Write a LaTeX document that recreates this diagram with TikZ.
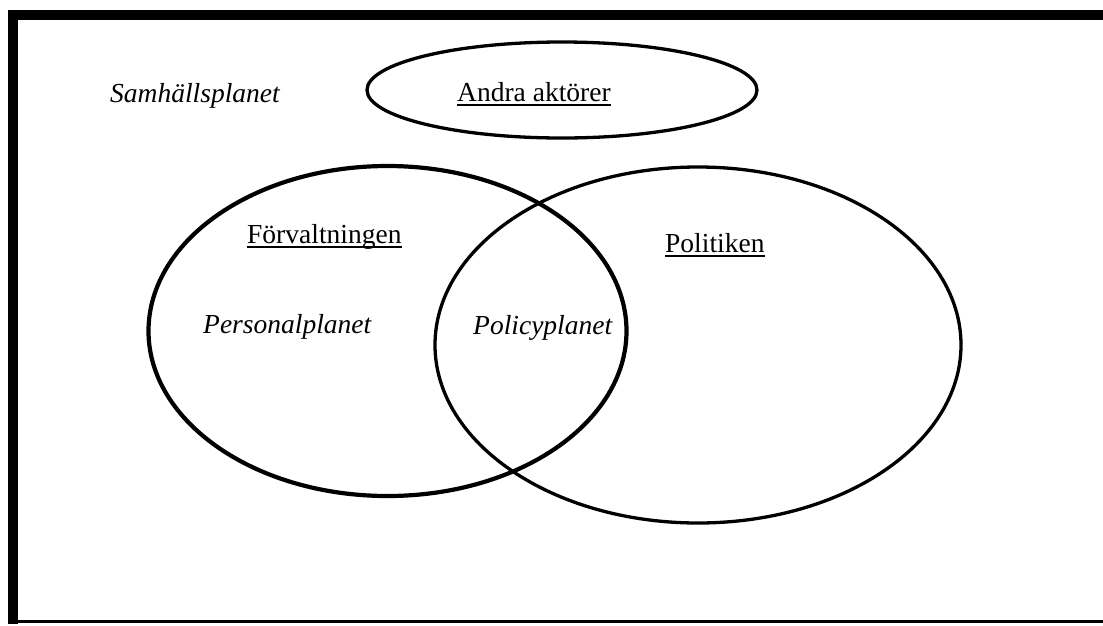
\documentclass[tikz,border=0pt]{standalone}
\usepackage{fontspec}
\setmainfont{Liberation Serif}
\begin{document}
\begin{tikzpicture}[x=1pt,y=-1pt,
  lbl/.style={inner sep=0pt,anchor=base west,font=\fontsize{27.5}{30}\selectfont},
  ilbl/.style={lbl,font=\fontsize{27.5}{30}\selectfont\itshape},
  ring/.style={draw=black,line width=3.3pt},
  uline/.style={line width=1.5pt}]
\useasboundingbox (0,0) rectangle (1103,625);
% frame
\fill[black] (8,10) rectangle (1103,20);
\fill[black] (8,10) rectangle (18,624);
\fill[black] (8,620) rectangle (1103,623);
% ellipses
\draw[ring] (562,90) ellipse [x radius=195pt, y radius=48pt];
\draw[ring,line width=4.2pt] (387.5,331) ellipse [x radius=239pt, y radius=165pt];
\draw[ring] (698,345) ellipse [x radius=263pt, y radius=178pt];
% labels
\node[ilbl] (samh) at (110,102) {Samhällsplanet};
\node[lbl] (andra) at (457,101) {Andra aktörer};
\draw[uline] ([yshift=-4pt]andra.base west) -- ([yshift=-4pt]andra.base east);
\node[lbl] (forv) at (247,243) {Förvaltningen};
\draw[uline] ([yshift=-4pt]forv.base west) -- ([yshift=-4pt]forv.base east);
\node[lbl] (polit) at (665,252) {Politiken};
\draw[uline] ([yshift=-4pt]polit.base west) -- ([yshift=-4pt]polit.base east);
\node[ilbl] (pers) at (203,333) {Personalplanet};
\node[ilbl] (pol) at (473,334) {Policyplanet};
\end{tikzpicture}
\end{document}
